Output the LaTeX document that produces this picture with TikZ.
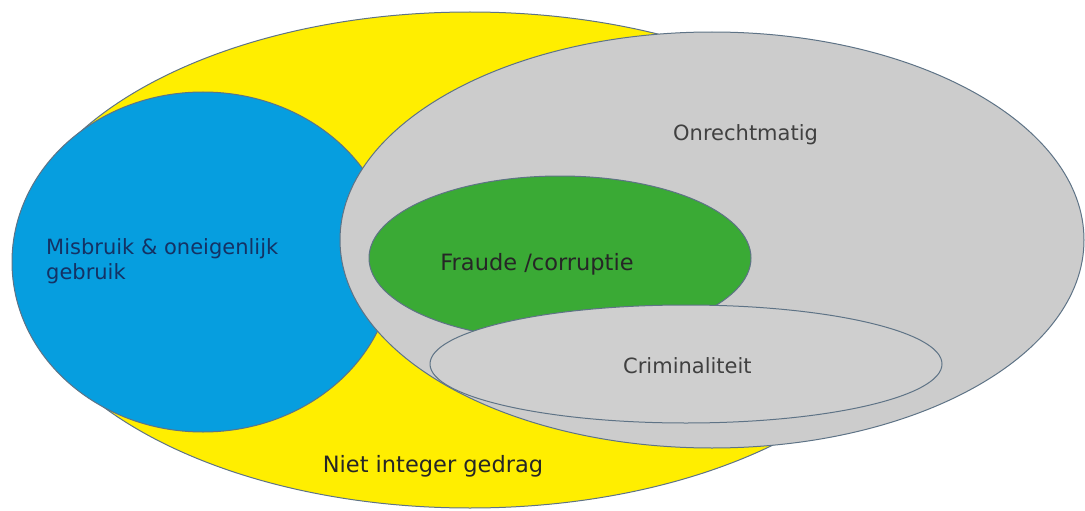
\documentclass[tikz,border=0pt]{standalone}
\usepackage{fontspec}
\setmainfont{DejaVu Sans}
\usetikzlibrary{shapes.geometric}

\definecolor{geel}{HTML}{FFEE00}
\definecolor{blauw}{HTML}{069EDF}
\definecolor{grijs}{HTML}{CCCCCC}
\definecolor{groen}{HTML}{3AAA35}
\definecolor{rand}{HTML}{5E7386}

\tikzset{
  set/.style={ellipse,draw=rand,line width=1pt,inner sep=0pt},
  label/.style={font=\fontsize{21}{25}\selectfont,inner sep=0pt},
  biglabel/.style={font=\fontsize{22.5}{26}\selectfont,inner sep=0pt}
}

\begin{document}
\begin{tikzpicture}[x=1pt,y=-1pt]
    \useasboundingbox (0,0) rectangle (1085,511);
    % sets
    \node[set,fill=geel,minimum width=910,minimum height=496] (integer) at (470,260) {};
    \node[set,fill=blauw,minimum width=382,minimum height=340] (misbruik) at (203,262) {};
    \node[set,fill=grijs,minimum width=744,minimum height=416] (onrecht) at (712,240) {};
    \node[set,fill=groen,minimum width=382,minimum height=164] (fraude) at (560,258) {};
    \node[set,fill=grijs!95!white,minimum width=512,minimum height=118] (crimi) at (686,364) {};
    % labels
    \node[biglabel,text=black!85] (tinteger) at (433,466) {Niet integer gedrag};
    \node[label,text=black!75,anchor=west] (tonrecht) at (673,135) {Onrechtmatig};
    \node[biglabel,text=black!85] (tfraude) at (537,264) {Fraude /corruptie};
    \node[label,text=black!75,anchor=west] (tcrimi) at (623,366) {Criminaliteit};
    \node[label,text={rgb,255:red,20;green,50;blue,100},anchor=west,align=left] (tmisbruik) at (46,261) {Misbruik \& oneigenlijk\\gebruik};
\end{tikzpicture}
\end{document}
